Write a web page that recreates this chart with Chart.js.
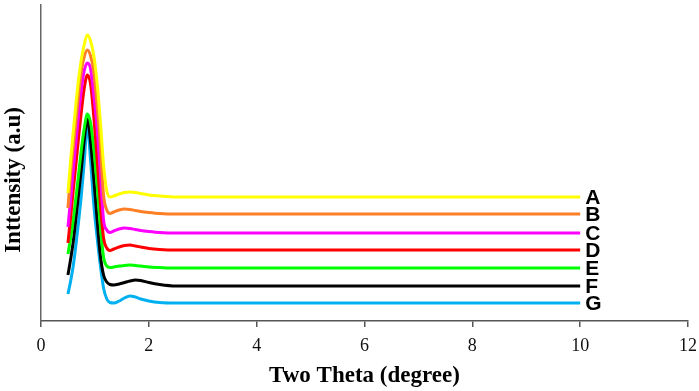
<!DOCTYPE html>
<html>
<head>
<meta charset="utf-8">
<script src="https://cdn.jsdelivr.net/npm/chart.js@4.4.1/dist/chart.umd.min.js"></script>
<style>
  html, body { margin: 0; padding: 0; background: #fff; overflow: hidden; }
  canvas { display: block; }
</style>
</head>
<body>
<canvas id="c" width="699" height="391"></canvas>
<script>
// two theta positions (degree) shared by all patterns
const theta = [0.5, 0.55, 0.6, 0.65, 0.7, 0.75, 0.8, 0.86, 0.92, 0.98, 1.04, 1.1, 1.16, 1.22, 1.28,
  1.35, 1.45, 1.55, 1.65, 1.75, 1.85, 2.0, 2.2, 2.5, 3, 4, 5, 6, 7, 8, 9, 10];

// intensities (a.u, stacked with offsets as in the figure)
const seriesA = [128, 161, 190, 218, 243, 262, 276, 286, 280, 265, 238, 200, 156, 130, 124,
  125, 127, 128.5, 129, 128.5, 127.5, 126, 125, 124, 124, 124, 124, 124, 124, 124, 124, 124];
const seriesB = [113, 148, 175, 201, 228, 251, 264, 271, 265, 249, 216, 177, 126, 111, 107.5,
  109, 111, 112, 111.5, 110.5, 109.5, 108.5, 107.5, 107, 107, 107, 107, 107, 107, 107, 107, 107];
const seriesC = [94, 122, 152, 180, 208, 232, 250, 258, 252, 225, 193, 149, 101, 91, 88.5,
  90, 92, 93, 92.5, 91.5, 90.5, 89.5, 88.5, 88, 88, 88, 88, 88, 88, 88, 88, 88];
const seriesD = [78, 104, 132, 158, 185, 210, 232, 246, 237, 204, 163, 118, 83, 73, 70.5,
  72, 74, 75.5, 76, 75, 74, 72.5, 71.5, 71, 71, 71, 71, 71, 71, 71, 71, 71];
const seriesE = [67, 83, 102, 124, 148, 172, 192, 207, 198, 172, 136, 95, 64, 55, 53.5,
  54, 55, 55.5, 56, 55.5, 55, 54, 53.5, 53, 53, 53, 53, 53, 53, 53, 53, 53];
const seriesF = [46, 62, 80, 104, 128, 153, 180, 202, 179, 142, 102, 66, 46, 39, 36.5,
  36, 37, 38.5, 40, 41, 40.5, 38.5, 36.5, 35, 35, 35, 35, 35, 35, 35, 35, 35];
const seriesG = [27, 40, 56, 77, 101, 127, 158, 196, 160, 116, 84, 56, 33, 22, 18.5,
  18, 20, 23, 25, 24, 22, 20, 18.5, 18, 18, 18, 18, 18, 18, 18, 18, 18];

const labels = ['A', 'B', 'C', 'D', 'E', 'F', 'G'];
const colors = ['#FFFF00', '#FF7F27', '#FF00FF', '#FF0000', '#00FF00', '#000000', '#00B0F0'];
const allSeries = [seriesA, seriesB, seriesC, seriesD, seriesE, seriesF, seriesG];

const xTicks = [0, 2, 4, 6, 8, 10, 12];

const datasets = allSeries.map((s, k) => ({
  label: labels[k],
  data: theta.map((t, i) => ({ x: t, y: s[i] })),
  borderColor: colors[k],
  borderWidth: 3,
  pointRadius: 0,
  fill: false,
  cubicInterpolationMode: 'monotone',
  borderCapStyle: 'butt'
}));

// letters at the end of each curve, plus the vertical axis title
const endLabels = {
  id: 'endLabels',
  afterDatasetsDraw(chart) {
    const { ctx, scales } = chart;
    ctx.save();
    ctx.fillStyle = '#000';
    ctx.font = 'bold 21px "Liberation Sans", Arial, sans-serif';
    ctx.textAlign = 'left';
    ctx.textBaseline = 'middle';
    allSeries.forEach((s, k) => {
      const x = scales.x.getPixelForValue(theta[theta.length - 1]) + 5;
      const y = scales.y.getPixelForValue(s[s.length - 1]) + 1;
      ctx.fillText(labels[k], x, y);
    });
    ctx.restore();

    ctx.save();
    ctx.translate(14, 180);
    ctx.rotate(-Math.PI / 2);
    ctx.font = 'bold 23px "Liberation Serif", "Times New Roman", serif';
    ctx.fillStyle = '#000';
    ctx.textAlign = 'center';
    ctx.textBaseline = 'middle';
    ctx.fillText('Inttensity (a.u)', 0, 0);
    ctx.restore();
  }
};

new Chart(document.getElementById('c'), {
  type: 'line',
  data: { datasets: datasets },
  options: {
    responsive: false,
    animation: false,
    layout: { padding: { top: 5, right: 11, bottom: 0, left: 0 } },
    plugins: {
      legend: { display: false },
      tooltip: { enabled: false }
    },
    scales: {
      x: {
        type: 'linear',
        min: 0,
        max: 12,
        afterFit: (scale) => {
          scale.height = 70;
          scale.paddingLeft = 0;
          scale.paddingRight = 0;
        },
        afterBuildTicks: (scale) => { scale.ticks = xTicks.map(v => ({ value: v })); },
        ticks: {
          color: '#111',
          padding: 8,
          maxRotation: 0,
          font: { family: '"Liberation Serif", "Times New Roman", serif', size: 18 }
        },
        grid: { drawOnChartArea: false, drawTicks: true, tickLength: 6, color: '#555', lineWidth: 1.5 },
        border: { color: '#555', width: 1.5 },
        title: {
          display: true,
          text: 'Two Theta (degree)',
          color: '#000',
          padding: { top: 0, bottom: 1 },
          font: { family: '"Liberation Serif", "Times New Roman", serif', size: 23, weight: 'bold' }
        }
      },
      y: {
        min: 0,
        max: 316,
        afterFit: (scale) => { scale.width = 41; },
        ticks: { display: false },
        grid: { drawOnChartArea: false, drawTicks: false },
        border: { color: '#666', width: 1.5 }
      }
    }
  },
  plugins: [endLabels]
});
</script>
</body>
</html>
